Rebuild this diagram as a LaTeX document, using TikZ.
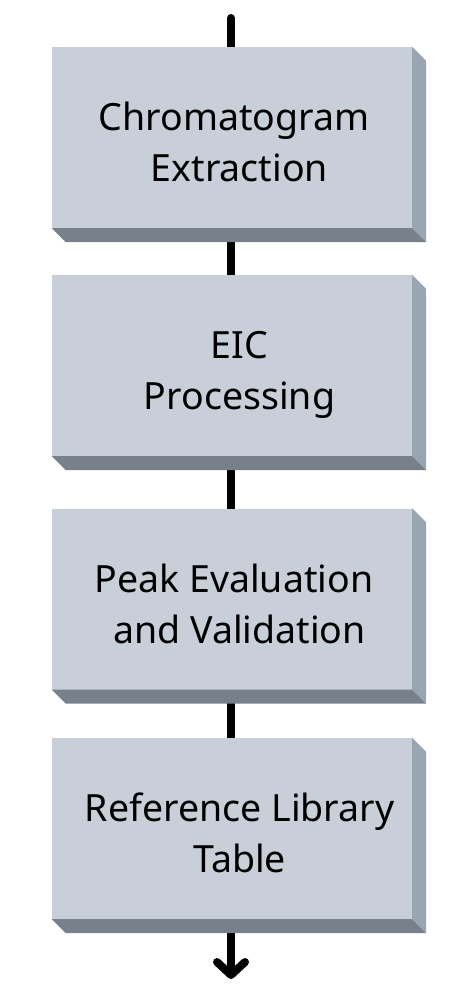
\documentclass[tikz,border=0pt]{standalone}
\usepackage{fontspec}
\setmainfont{Noto Sans}
\usetikzlibrary{arrows.meta,backgrounds}
\definecolor{frontc}{HTML}{C8CFD9}
\definecolor{sidec}{HTML}{9AA5B2}
\definecolor{bottomc}{HTML}{77808B}
\tikzset{
  stepbox/.style={rectangle, fill=frontc, minimum width=360pt, minimum height=181pt, inner sep=0pt},
  steptext/.style={align=center, inner sep=0pt, font=\fontsize{37.5}{51}\selectfont, text=black},
  flow/.style={line width=8pt, draw=black, line cap=round},
}
\newcommand{\boxsides}[1]{%
  \fill[sidec] (#1.north east) -- ++(14pt,-14pt) -- ([shift={(14pt,-14pt)}]#1.south east) -- (#1.south east) -- cycle;
  \fill[bottomc] (#1.south west) -- (#1.south east) -- ++(14pt,-14pt) -- ([shift={(14pt,-14pt)}]#1.south west) -- cycle;
}
\begin{document}
\begin{tikzpicture}[x=1pt,y=-1pt]
\useasboundingbox (0,0) rectangle (470,1000);
\node[stepbox] (b1) at (232,137.5) {};
\node[stepbox] (b2) at (232,365.5) {};
\node[stepbox] (b3) at (232,599) {};
\node[stepbox] (b4) at (232,828.5) {};
\boxsides{b1}\boxsides{b2}\boxsides{b3}\boxsides{b4}
\node[steptext] (t1) at ([shift={(7.5pt,-8.6pt)}]b1.center) {\strut Chromatogram\hspace*{11pt}\\\strut Extraction};
\node[steptext] (t2) at ([shift={(7.5pt,-8.6pt)}]b2.center) {\strut EIC\\\strut Processing};
\node[steptext] (t3) at ([shift={(7.5pt,-8.6pt)}]b3.center) {\strut Peak Evaluation\hspace*{11pt}\\\strut and Validation};
\node[steptext] (t4) at ([shift={(7.5pt,-8.6pt)}]b4.center) {\strut Reference Library\\\strut Table};
\coordinate (start) at (231,18);
\coordinate (finish) at (231,979);
\begin{scope}[on background layer]
\draw[flow] (start) -- (start |- b1.north);
\draw[flow] (b1.south -| start) -- (b2.north -| start);
\draw[flow] (b2.south -| start) -- (b3.north -| start);
\draw[flow] (b3.south -| start) -- (b4.north -| start);
\draw[flow, -{Straight Barb[length=13pt, width=28pt, line cap=round, line join=round]}] (b4.south -| start) -- (finish);
\end{scope}
\end{tikzpicture}
\end{document}
